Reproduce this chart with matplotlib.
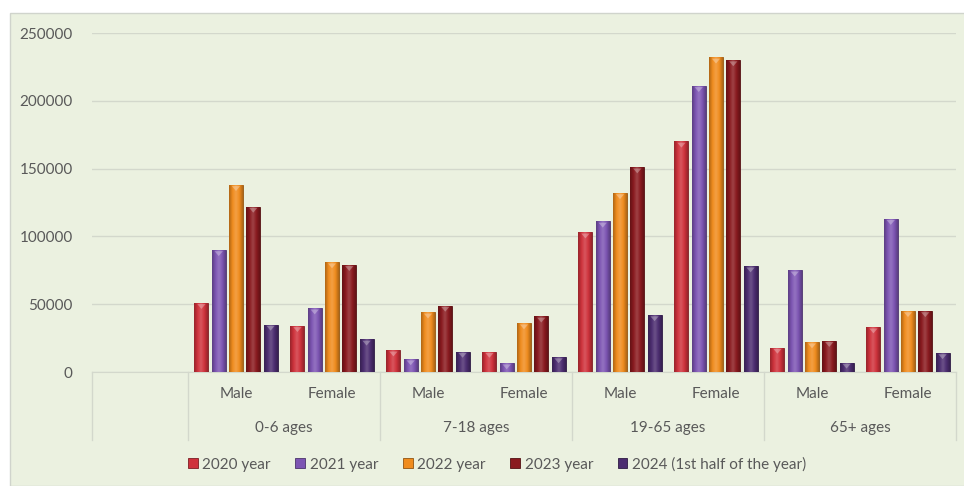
import numpy as np
import matplotlib.pyplot as plt
from matplotlib.colors import LinearSegmentedColormap, to_rgb
from matplotlib.patches import Rectangle

plt.rcParams['font.family'] = ['Lato', 'DejaVu Sans']

# data
groups = ['0-6 ages', '7-18 ages', '19-65 ages', '65+ ages']
genders = ['Male', 'Female']
series = ['2020 year', '2021 year', '2022 year', '2023 year', '2024 (1st half of the year)']
y2020 = [51000, 34000, 16000, 15000, 103000, 170000, 18000, 33000]
y2021 = [90000, 47000, 9500, 6500, 111000, 211000, 75000, 113000]
y2022 = [138000, 81000, 44000, 36000, 132000, 232000, 22000, 45000]
y2023 = [122000, 79000, 49000, 41000, 151000, 230000, 23000, 45000]
y2024 = [35000, 24000, 15000, 11000, 42000, 78000, 7000, 14000]
values = [y2020, y2021, y2022, y2023, y2024]
colors = ['#cf323c', '#7d55b3', '#f08c1e', '#8a1a1f', '#4c2d70']

bg = '#ebf1e0'
txt = '#595959'
fs = 11

fig = plt.figure(figsize=(9.64, 4.86), dpi=100)
fig.patch.set_facecolor('white')
frame = Rectangle((10/964, 0), 1, 1 - 13/486, transform=fig.transFigure,
                  facecolor=bg, edgecolor='#d0d4cc', lw=1, zorder=-10)
fig.add_artist(frame)

ax = fig.add_axes([92/964, 1 - 372/486, (956 - 92)/964, (372 - 33)/486])
ax.set_facecolor(bg)
ax.set_zorder(5)

# slot 0 stays empty, sub-categories at 1..8
x = np.arange(1, 9)
width = 0.145
pitch = 0.18


def shade(c):
    r = np.array(to_rgb(c))
    dark = r * 0.72
    light = np.clip(r + (1 - r) * 0.18, 0, 1)
    return LinearSegmentedColormap.from_list('g', [dark, r, light, r, dark])


grad = np.linspace(0, 1, 64).reshape(1, -1)
for i, (vals, c) in enumerate(zip(values, colors)):
    bars = ax.bar(x + (i - 2) * pitch, vals, width, color=c, edgecolor=np.array(to_rgb(c)) * 0.6,
                  lw=0.6, label=series[i], zorder=3)
    cm = shade(c)
    for b in bars:
        bx, bw, bh = b.get_x(), b.get_width(), b.get_height()
        im = ax.imshow(grad, cmap=cm, aspect='auto', extent=(bx, bx + bw, 0, bh),
                       zorder=3.5, interpolation='bicubic')
        im.set_clip_path(b)
        # light cap at the top of each bar
        ax.fill([bx + bw * 0.2, bx + bw * 0.8, bx + bw * 0.5],
                [bh - 900, bh - 900, bh - 4500], color='white', alpha=0.3,
                lw=0, zorder=4)

ax.set_xlim(-0.5, 8.5)
ax.set_ylim(0, 250000)
ax.set_yticks(np.arange(0, 250001, 50000))
ax.set_yticklabels([str(v) for v in range(0, 250001, 50000)])
ax.yaxis.grid(True, color='#d3d8cc', lw=1)
ax.set_axisbelow(True)
for s in ['top', 'right', 'left']:
    ax.spines[s].set_visible(False)
ax.spines['bottom'].set_color('#d3d8cc')
ax.tick_params(axis='y', length=0, pad=14, labelsize=fs, labelcolor=txt)
ax.tick_params(axis='x', length=0, pad=11, labelsize=fs, labelcolor=txt)
ax.set_xticks(x)
ax.set_xticklabels(genders * 4)

# group labels and separators
trans = ax.get_xaxis_transform()
for gi, g in enumerate(groups):
    ax.text(1.5 + gi * 2, -0.165, g, transform=trans, ha='center', va='center',
            fontsize=fs, color=txt)
for sx in [-0.5, 0.5, 2.5, 4.5, 6.5, 8.5]:
    ax.plot([sx, sx], [0, -0.2], transform=trans, color='#d3d8cc', lw=1, clip_on=False)

leg = fig.legend(loc='center', bbox_to_anchor=(497/964, 1 - 464/486), ncol=5, frameon=False,
                 fontsize=fs, handlelength=0.65, handleheight=0.65, handletextpad=0.3,
                 columnspacing=1.6)
for t in leg.get_texts():
    t.set_color(txt)

fig.savefig('out.png', dpi=100, facecolor=fig.get_facecolor())
